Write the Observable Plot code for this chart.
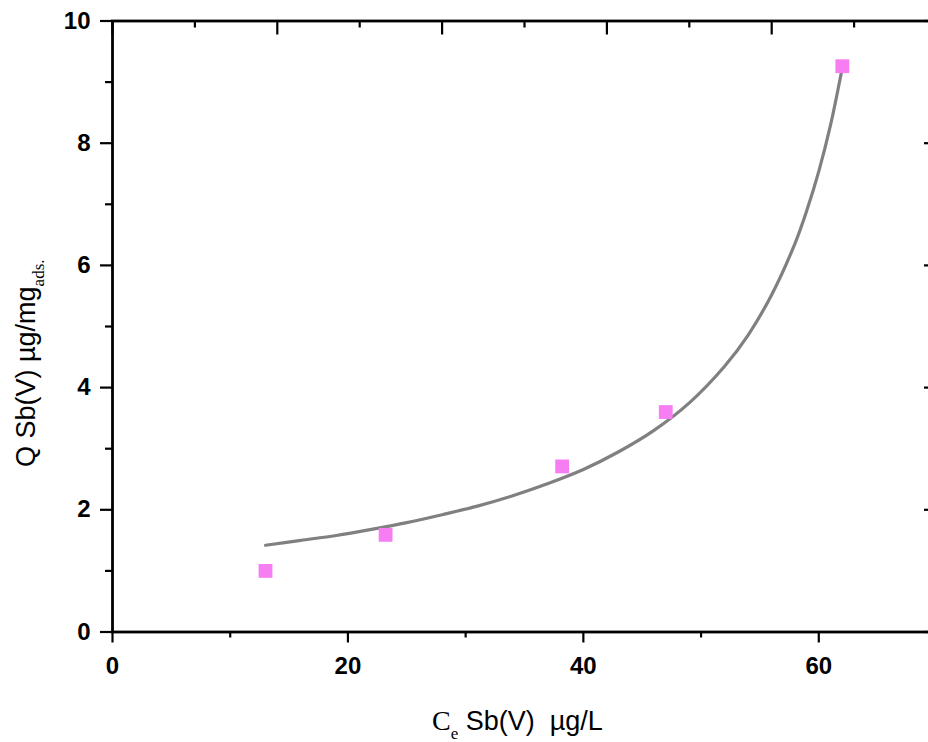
<!DOCTYPE html>
<html><head><meta charset="utf-8">
<script src="https://cdn.jsdelivr.net/npm/d3@7"></script>
<script src="https://cdn.jsdelivr.net/npm/@observablehq/plot@0.6"></script>
<style>
body{margin:0;background:#fff}
#wrap{width:928px;height:742px;overflow:hidden;position:relative;background:#fff}
#wrap svg{max-width:none !important;width:936px !important;height:742px !important;display:block}
</style></head><body><div id="wrap"></div>
<script>
// measured points
const ce = [13.0, 23.2, 38.2, 47.0, 62.0];
const q = [1.00, 1.59, 2.71, 3.60, 9.26];
// fitted curve
const fitCe = [13,16,19,22,25,28,31,34,37,40,43,46,49,52,54,56,58,59,60,61,62];
const fitQ = [1.42,1.50,1.58,1.68,1.79,1.92,2.06,2.23,2.43,2.66,2.95,3.30,3.75,4.35,4.86,5.52,6.37,6.91,7.54,8.30,9.24];
// ticks
const xMajor = [0, 20, 40, 60];
const xMinor = [10, 30, 50, 70];
const yMajor = [0, 2, 4, 6, 8, 10];
const yMinor = [1, 3, 5, 7, 9];
const topMajor = [0, 14, 28, 42, 56, 70];
const topMinor = [7, 21, 35, 49, 63];

const pts = ce.map((x, i) => ({x, y: q[i]}));
const fit = fitCe.map((x, i) => ({x, y: fitQ[i]}));

const font = "'Liberation Sans', Arial, sans-serif";
const serif = "'Liberation Serif', 'Times New Roman', serif";

const chart = Plot.plot({
  width: 936,
  height: 742,
  marginLeft: 112,
  marginRight: 0,
  marginTop: 20.5,
  marginBottom: 110.5,
  style: {fontFamily: font, background: "#fff", color: "#000", overflow: "visible", maxWidth: "none"},
  x: {domain: [0, 70]},
  y: {domain: [0, 10]},
  marks: [
    Plot.line(fit, {x: "x", y: "y", stroke: "#808080", strokeWidth: 3.2, curve: "catmull-rom"}),
    Plot.dot(pts, {x: "x", y: "y", symbol: "square", r: 7.8, fill: "#f67ef2", stroke: "none"}),
    // bottom axis
    Plot.axisX({anchor: "bottom", ticks: xMajor, tickSize: 11, tickPadding: 14, fontSize: 24, fontWeight: "bold", strokeWidth: 2.2, label: null, tickFormat: d => String(d)}),
    Plot.axisX({anchor: "bottom", ticks: xMinor, tickSize: 6, strokeWidth: 2.2, label: null, tickFormat: () => ""}),
    // left axis
    Plot.axisY({anchor: "left", ticks: yMajor, tickSize: 12, tickPadding: 10, fontSize: 24, fontWeight: "bold", strokeWidth: 2.2, label: null, tickFormat: d => String(d)}),
    Plot.axisY({anchor: "left", ticks: yMinor, tickSize: 7, strokeWidth: 2.2, label: null, tickFormat: () => ""}),
    // top axis (inward ticks)
    Plot.axisX({anchor: "top", ticks: topMajor, tickSize: -13, strokeWidth: 2.2, label: null, tickFormat: () => ""}),
    Plot.axisX({anchor: "top", ticks: topMinor, tickSize: -6, strokeWidth: 2.2, label: null, tickFormat: () => ""}),
    // right axis (inward ticks)
    Plot.axisY({anchor: "right", ticks: yMajor, tickSize: -13, strokeWidth: 2.2, label: null, tickFormat: () => ""}),
    Plot.axisY({anchor: "right", ticks: yMinor, tickSize: -6, strokeWidth: 2.2, label: null, tickFormat: () => ""}),
    Plot.frame({stroke: "#000", strokeWidth: 2.8})
  ]
});

document.getElementById("wrap").appendChild(chart);

const svg = d3.select(chart);

// y-axis title
const yt = svg.append("text")
  .attr("transform", "translate(35,467) rotate(-90)")
  .attr("text-anchor", "start")
  .attr("fill", "#000")
  .style("white-space", "pre");
yt.append("tspan").attr("font-family", font).attr("font-size", 27).text("Q Sb(V) µg/mg");
yt.append("tspan").attr("font-family", serif).attr("font-size", 17).attr("dy", 9).text("ads.");

// x-axis title
const xt = svg.append("text")
  .attr("x", 432)
  .attr("y", 730)
  .attr("text-anchor", "start")
  .attr("fill", "#000")
  .style("white-space", "pre");
xt.append("tspan").attr("font-family", serif).attr("font-size", 28).text("C");
xt.append("tspan").attr("font-family", serif).attr("font-size", 17).attr("dy", 9).text("e");
xt.append("tspan").attr("font-family", font).attr("font-size", 27).attr("dy", -9).text(" Sb(V)  µg/L");
</script>
</body></html>
